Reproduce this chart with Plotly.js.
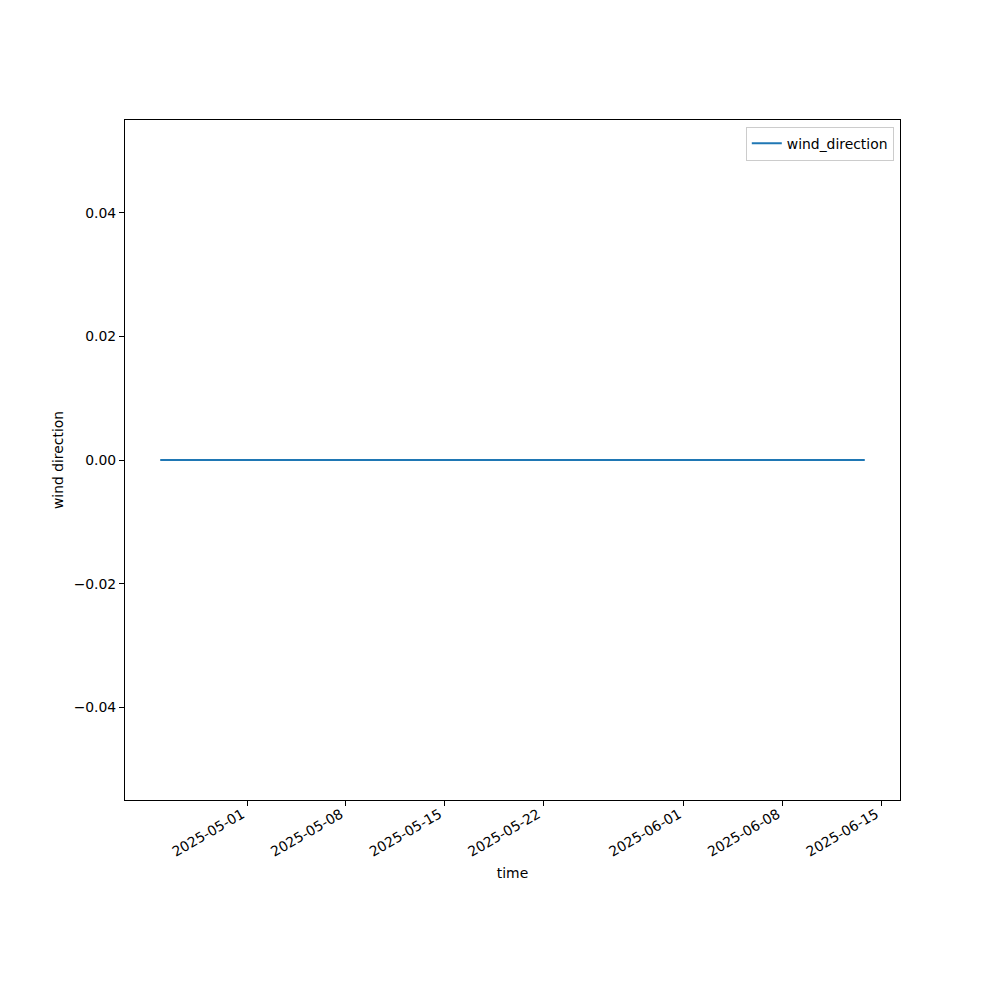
<!DOCTYPE html>
<html>
<head>
<meta charset="utf-8">
<script src="https://cdn.plot.ly/plotly-3.0.1.min.js"></script>
<style>html,body{margin:0;padding:0;background:#fff;}#chart{width:1000px;height:1000px;}</style>
</head>
<body>
<div id="chart"></div>
<script>
const dates = [
  "2025-04-24 20:00","2025-04-25 20:00","2025-04-26 20:00","2025-04-27 20:00","2025-04-28 20:00",
  "2025-04-29 20:00","2025-04-30 20:00","2025-05-01 20:00","2025-05-02 20:00","2025-05-03 20:00",
  "2025-05-04 20:00","2025-05-05 20:00","2025-05-06 20:00","2025-05-07 20:00","2025-05-08 20:00",
  "2025-05-09 20:00","2025-05-10 20:00","2025-05-11 20:00","2025-05-12 20:00","2025-05-13 20:00",
  "2025-05-14 20:00","2025-05-15 20:00","2025-05-16 20:00","2025-05-17 20:00","2025-05-18 20:00",
  "2025-05-19 20:00","2025-05-20 20:00","2025-05-21 20:00","2025-05-22 20:00","2025-05-23 20:00",
  "2025-05-24 20:00","2025-05-25 20:00","2025-05-26 20:00","2025-05-27 20:00","2025-05-28 20:00",
  "2025-05-29 20:00","2025-05-30 20:00","2025-05-31 20:00","2025-06-01 20:00","2025-06-02 20:00",
  "2025-06-03 20:00","2025-06-04 20:00","2025-06-05 20:00","2025-06-06 20:00","2025-06-07 20:00",
  "2025-06-08 20:00","2025-06-09 20:00","2025-06-10 20:00","2025-06-11 20:00","2025-06-12 20:00",
  "2025-06-13 20:00"
];
const windDirection = [
  0,0,0,0,0,
  0,0,0,0,0,
  0,0,0,0,0,
  0,0,0,0,0,
  0,0,0,0,0,
  0,0,0,0,0,
  0,0,0,0,0,
  0,0,0,0,0,
  0,0,0,0,0,
  0,0,0,0,0,
  0
];
const xTickVals = ["2025-05-01","2025-05-08","2025-05-15","2025-05-22","2025-06-01","2025-06-08","2025-06-15"];
const xTickText = ["2025-05-01","2025-05-08","2025-05-15","2025-05-22","2025-06-01","2025-06-08","2025-06-15"];
const yTickVals = [-0.04,-0.02,0,0.02,0.04];

const font = {family: "DejaVu Sans", size: 13.9, color: "#000"};

Plotly.newPlot("chart", [{
  x: dates,
  y: windDirection,
  type: "scatter",
  mode: "lines",
  name: "wind_direction",
  line: {color: "#1f77b4", width: 2}
}], {
  width: 1000, height: 1000,
  margin: {l: 125, r: 100, t: 120, b: 200},
  paper_bgcolor: "#fff", plot_bgcolor: "#fff",
  font: font,
  showlegend: true,
  legend: {x: 0.992, xanchor: "right", y: 0.99, yanchor: "top",
           bordercolor: "#cccccc", borderwidth: 1, bgcolor: "rgba(255,255,255,0.8)",
           font: font},
  xaxis: {
    type: "date",
    range: ["2025-04-22 08:00", "2025-06-16 08:00"],
    tickvals: xTickVals, ticktext: xTickText,
    tickangle: -30,
    ticklabelshift: -5,
    ticklabelstandoff: -5,
    ticks: "outside", ticklen: 5, tickcolor: "#000",
    showgrid: false, zeroline: false,
    showline: true, linecolor: "#000", linewidth: 1, mirror: true,
    title: {text: "time", font: font, standoff: 9},
    automargin: false
  },
  yaxis: {
    range: [-0.055, 0.055],
    tickvals: yTickVals, tickformat: ".2f",
    ticks: "outside", ticklen: 5, tickcolor: "#000",
    showgrid: false, zeroline: false,
    showline: true, linecolor: "#000", linewidth: 1, mirror: true,
    title: {text: "wind direction", font: font, standoff: 6},
    automargin: false
  }
}, {displayModeBar: false, staticPlot: true});
</script>
</body>
</html>
